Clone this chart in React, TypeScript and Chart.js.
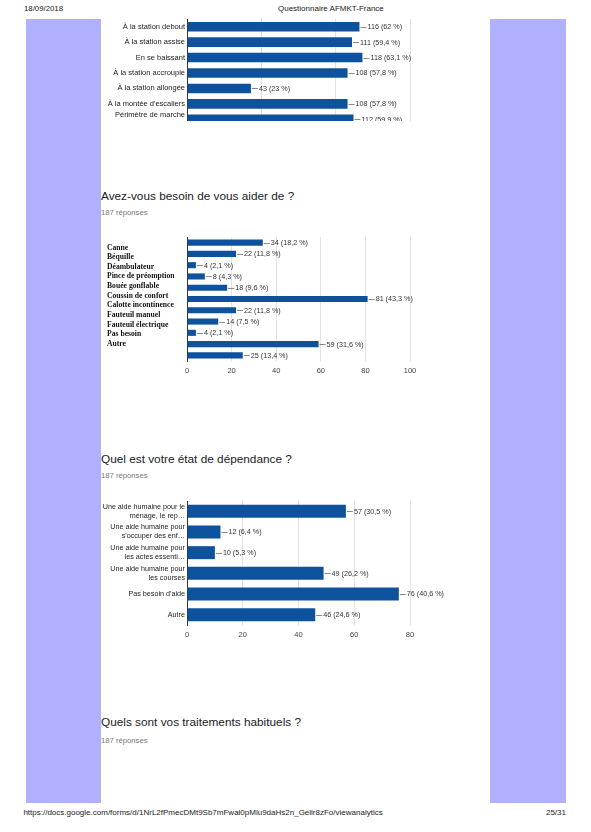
import React, { useEffect, useRef } from "react";
import { Chart, registerables } from "chart.js";

Chart.register(...registerables);

const SANS = 'Arial, "Liberation Sans", Helvetica, sans-serif';
const SERIF = '"Liberation Serif", "Times New Roman", Times, serif';
const BAR_COLOR = "#0e529e";
const GRID_COLOR = "#e2e2e2";

// ---------- Chart 1 (top, cut by the page break) ----------
const cat1: (string | string[])[] = [
  "À la station debout",
  "À la station assise",
  "En se baissant",
  "À la station accroupie",
  "À la station allongée",
  "À la montée d'escaliers",
  ["Périmètre de marche", ""],
];
const val1 = [116, 111, 118, 108, 43, 108, 112];
const pct1 = ["62", "59,4", "63,1", "57,8", "23", "57,8", "59,9"];
const max1 = 150;
const step1 = 50;

// ---------- Chart 2: Avez-vous besoin de vous aider de ? ----------
const title2 = "Avez-vous besoin de vous aider de ?";
const cat2 = [
  "Canne",
  "Béquille",
  "Déambulateur",
  "Pince de préomption",
  "Bouée gonflable",
  "Coussin de confort",
  "Calotte incontinence",
  "Fauteuil manuel",
  "Fauteuil électrique",
  "Pas besoin",
  "Autre",
];
const val2 = [34, 22, 4, 8, 18, 81, 22, 14, 4, 59, 25];
const pct2 = ["18,2", "11,8", "2,1", "4,3", "9,6", "43,3", "11,8", "7,5", "2,1", "31,6", "13,4"];
const max2 = 100;
const step2 = 20;

// ---------- Chart 3: Quel est votre état de dépendance ? ----------
const title3 = "Quel est votre état de dépendance ?";
const cat3: (string | string[])[] = [
  ["Une aide humaine pour le", "ménage, le rep…"],
  ["Une aide humaine pour", "s'occuper des enf…"],
  ["Une aide humaine pour", "les actes essenti…"],
  ["Une aide humaine pour", "les courses"],
  "Pas besoin d'aide",
  "Autre",
];
const val3 = [57, 12, 10, 49, 76, 46];
const pct3 = ["30,5", "6,4", "5,3", "26,2", "40,6", "24,6"];
const max3 = 80;
const step3 = 20;

const title4 = "Quels sont vos traitements habituels ?";
const responses = "187 réponses";

function valueLabelPlugin(texts: string[], size: number) {
  return {
    id: "valueLabels",
    afterDatasetsDraw(chart: any) {
      const ctx = chart.ctx;
      const meta = chart.getDatasetMeta(0);
      ctx.save();
      ctx.font = `${size}px ${SANS}`;
      ctx.textBaseline = "middle";
      ctx.textAlign = "left";
      meta.data.forEach((bar: any, i: number) => {
        const x = bar.x;
        const y = bar.y;
        ctx.strokeStyle = "#8a8a8a";
        ctx.lineWidth = 1;
        ctx.beginPath();
        ctx.moveTo(x + 1, Math.round(y) + 0.5);
        ctx.lineTo(x + 7, Math.round(y) + 0.5);
        ctx.stroke();
        ctx.fillStyle = "#333";
        ctx.fillText(texts[i], x + 8, y + 0.5);
      });
      ctx.restore();
    },
  };
}

type HBarProps = {
  labels: (string | string[])[];
  values: number[];
  pcts: string[];
  max: number;
  step: number;
  width: number;
  height: number;
  padTop: number;
  barPct: number;
  showLabels: boolean;
  labelSize: number;
  labelLineHeight: number;
  style: React.CSSProperties;
};

function HBar(p: HBarProps) {
  const ref = useRef<HTMLCanvasElement>(null);
  useEffect(() => {
    if (!ref.current) return;
    const texts = p.values.map((v, i) => `${v} (${p.pcts[i]} %)`);
    const chart = new Chart(ref.current, {
      type: "bar",
      data: {
        labels: p.labels as any,
        datasets: [
          {
            data: p.values,
            backgroundColor: BAR_COLOR,
            borderWidth: 0,
            categoryPercentage: 1,
            barPercentage: p.barPct,
          },
        ],
      },
      options: {
        indexAxis: "y",
        responsive: false,
        animation: false,
        events: [],
        layout: { padding: { top: p.padTop, left: 0, right: p.width - 310, bottom: 0 } },
        plugins: { legend: { display: false }, tooltip: { enabled: false } },
        scales: {
          x: {
            min: 0,
            max: p.max,
            ticks: {
              stepSize: p.step,
              color: "#444",
              padding: 5,
              font: { family: SANS, size: 7.5 },
              maxRotation: 0,
              autoSkip: false,
            },
            grid: { color: GRID_COLOR, drawTicks: false, lineWidth: 1 },
            border: { display: false },
            afterFit: (s: any) => {
              s.height = 20;
            },
          },
          y: {
            ticks: {
              padding: 2,
              color: "#222",
              autoSkip: false,
              font: { family: SANS, size: p.labelSize, lineHeight: p.labelLineHeight },
              callback: function (this: any, _v: any, i: number) {
                return p.showLabels ? (p.labels[i] as any) : "";
              },
            },
            grid: { display: false, drawTicks: false },
            border: { display: true, color: "#333", width: 1 },
            afterFit: (s: any) => {
              s.width = 87;
            },
          },
        },
      },
      plugins: [valueLabelPlugin(texts, 7.2)],
    });
    return () => chart.destroy();
  }, []);
  return <canvas ref={ref} width={p.width} height={p.height} style={{ position: "absolute", ...p.style }} />;
}

const textBase: React.CSSProperties = {
  position: "absolute",
  whiteSpace: "nowrap",
  lineHeight: 1,
  fontFamily: SANS,
};

export default function App() {
  return (
    <div
      style={{
        position: "absolute",
        left: 0,
        top: 0,
        width: 591,
        height: 832,
        background: "#fff",
        overflow: "hidden",
        fontFamily: SANS,
      }}
    >
      {/* header */}
      <div style={{ ...textBase, left: 24, top: 5.2, fontSize: 7.8, color: "#222" }}>18/09/2018</div>
      <div style={{ ...textBase, left: 278, top: 5.2, fontSize: 8, color: "#222" }}>Questionnaire AFMKT-France</div>

      {/* side bands */}
      <div style={{ position: "absolute", left: 26, top: 19, width: 75, height: 784, background: "#b0b0fd" }} />
      <div style={{ position: "absolute", left: 490, top: 19, width: 76, height: 784, background: "#b0b0fd" }} />

      {/* chart 1 (cut) */}
      <div style={{ position: "absolute", left: 100, top: 19, width: 370, height: 101.5, overflow: "hidden" }}>
        <HBar
          labels={cat1}
          values={val1}
          pcts={pct1}
          max={max1}
          step={step1}
          width={370}
          height={140}
          padTop={12}
          barPct={0.62}
          showLabels={true}
          labelSize={7.5}
          labelLineHeight={1.2}
          style={{ left: 0, top: -12 }}
        />
      </div>

      {/* chart 2 */}
      <div style={{ ...textBase, left: 101, top: 190.5, fontSize: 11.8, color: "#202124" }}>{title2}</div>
      <div style={{ ...textBase, left: 101, top: 209.4, fontSize: 7.7, color: "#777" }}>{responses}</div>
      <HBar
        labels={cat2}
        values={val2}
        pcts={pct2}
        max={max2}
        step={step2}
        width={370}
        height={156}
        padTop={12}
        barPct={0.54}
        showLabels={false}
        labelSize={7.5}
        labelLineHeight={1.2}
        style={{ left: 100, top: 225 }}
      />
      <div style={{ position: "absolute", left: 106.7, top: 242.6 }}>
        {cat2.map((c, i) => (
          <div
            key={i}
            style={{
              height: 9.63,
              lineHeight: "9.63px",
              fontFamily: SERIF,
              fontWeight: "bold",
              fontSize: 8.6,
              color: "#111",
              whiteSpace: "nowrap",
              transform: "scaleX(0.89)",
              transformOrigin: "left center",
            }}
          >
            {c}
          </div>
        ))}
      </div>

      {/* chart 3 */}
      <div style={{ ...textBase, left: 101, top: 454, fontSize: 11.8, color: "#202124" }}>{title3}</div>
      <div style={{ ...textBase, left: 101, top: 471.8, fontSize: 7.7, color: "#777" }}>{responses}</div>
      <HBar
        labels={cat3}
        values={val3}
        pcts={pct3}
        max={max3}
        step={step3}
        width={370}
        height={156}
        padTop={12}
        barPct={0.63}
        showLabels={true}
        labelSize={7.2}
        labelLineHeight={1.25}
        style={{ left: 100, top: 489 }}
      />

      {/* section 4 */}
      <div style={{ ...textBase, left: 101, top: 716.7, fontSize: 11.8, color: "#202124" }}>{title4}</div>
      <div style={{ ...textBase, left: 101, top: 737.4, fontSize: 7.7, color: "#777" }}>{responses}</div>

      {/* footer */}
      <div style={{ ...textBase, left: 23.4, top: 808.8, fontSize: 8, color: "#222" }}>
        https://docs.google.com/forms/d/1NrL2fPmecDMt9Sb7mFwal0pMlu9daHs2n_Gellr8zFo/viewanalytics
      </div>
      <div style={{ ...textBase, right: 591 - 566, top: 808.8, fontSize: 8, color: "#222" }}>25/31</div>
    </div>
  );
}
